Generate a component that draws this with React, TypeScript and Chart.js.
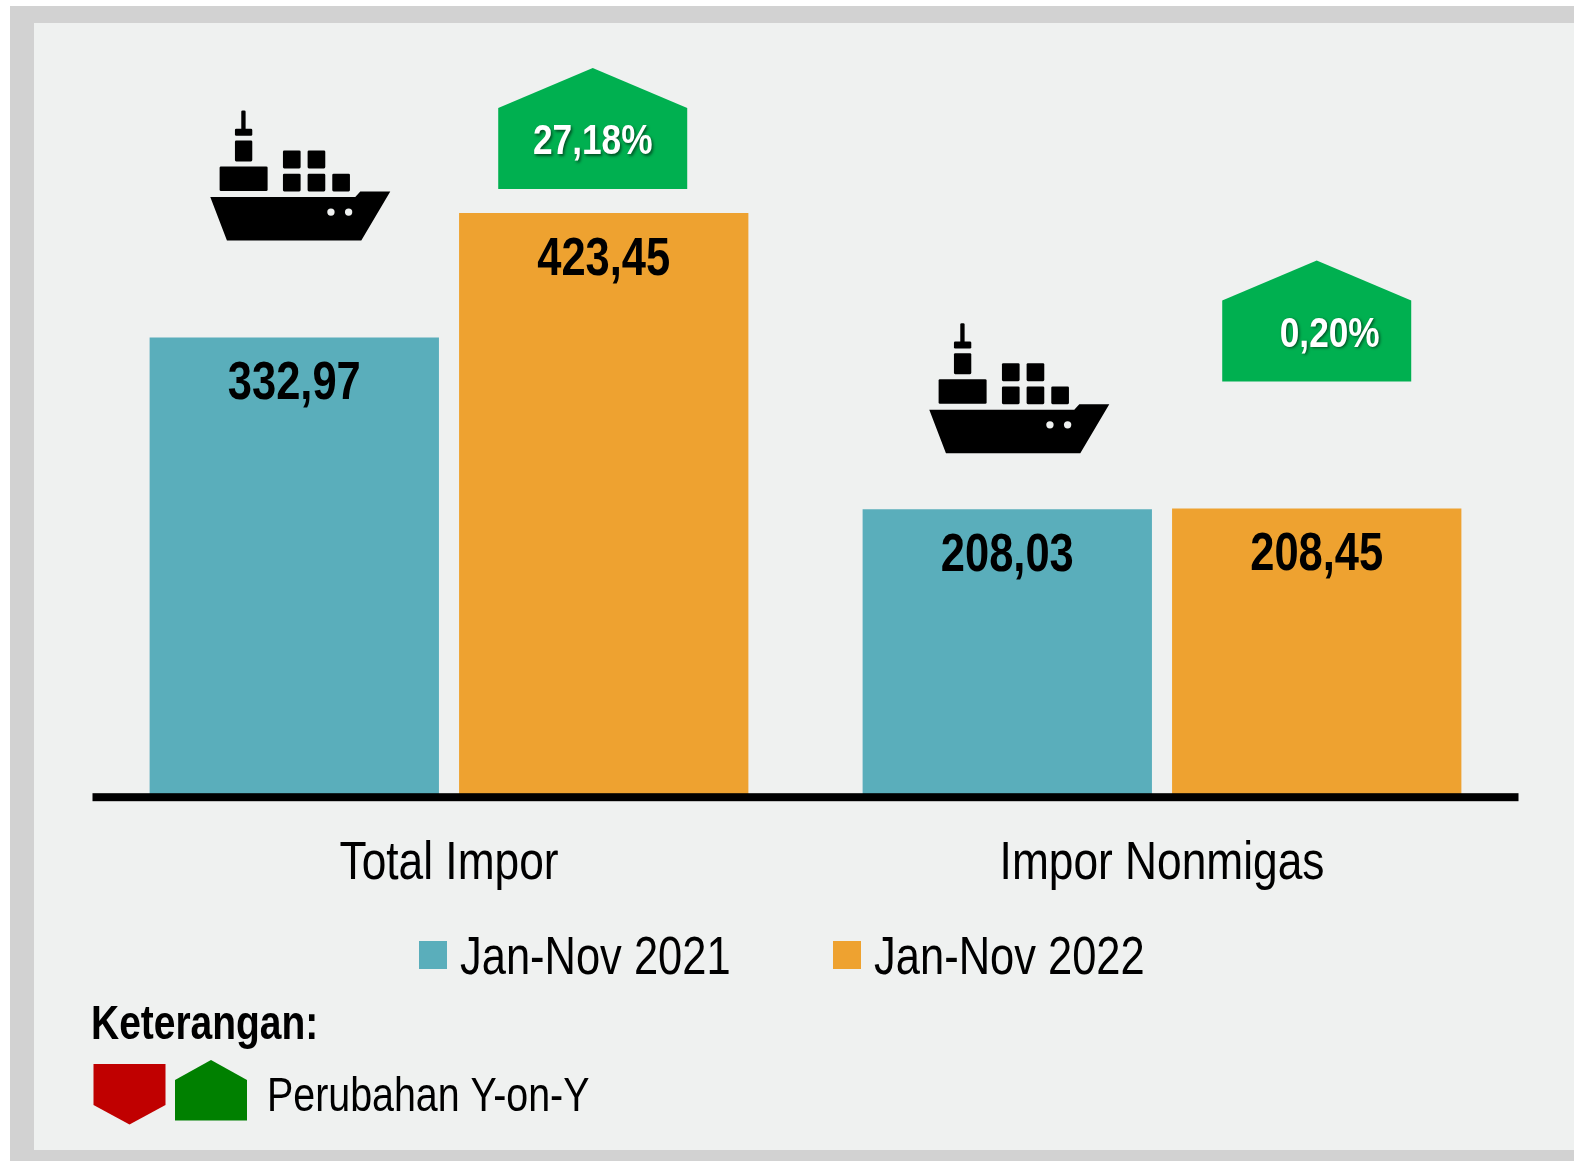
import React, { useEffect, useRef } from "react";
import { Chart, registerables } from "chart.js";

Chart.register(...registerables);

const categories = ["Total Impor", "Impor Nonmigas"];
const series2021 = [332.97, 208.03];
const series2022 = [423.45, 208.45];
const label2021 = "Jan-Nov 2021";
const label2022 = "Jan-Nov 2022";
const valueText2021 = ["332,97", "208,03"];
const valueText2022 = ["423,45", "208,45"];
const changeText = ["27,18%", "0,20%"];
const noteTitle = "Keterangan:";
const noteText = "Perubahan Y-on-Y";

const TEAL = "#5AAEBB";
const ORANGE = "#EEA230";
const GREEN = "#00B050";
const FONT = '"Liberation Sans", Arial, sans-serif';
const NARROW_X = 0.82;

// per-category placement of decorations, relative to the bars
const shipOffset = [
  { dx: -104, dy: -277 },
  { dx: -98, dy: -236 },
];
const badgeOffset = [
  { dx: -11, dy: -24, tx: 0 },
  { dx: 0, dy: -127, tx: 13 },
];

// No narrow font is installed, so all canvas text is condensed horizontally.
function condense(ctx: any) {
  const fill = ctx.fillText.bind(ctx);
  const measure = ctx.measureText.bind(ctx);
  ctx.fillText = (t: string, x: number, y: number) => {
    ctx.save();
    ctx.translate(x, y);
    ctx.scale(NARROW_X, 1);
    fill(t, 0, 0);
    ctx.restore();
  };
  ctx.measureText = (t: string) => ({ width: measure(t).width * NARROW_X });
}

function rr(ctx: CanvasRenderingContext2D, x0: number, y0: number, x1: number, y1: number) {
  ctx.beginPath();
  ctx.roundRect(x0, y0, x1 - x0, y1 - y0, 4);
  ctx.fill();
}

function drawShip(ctx: CanvasRenderingContext2D, ox: number, oy: number, bg: string) {
  ctx.save();
  ctx.translate(ox, oy);
  ctx.scale(1 / 3, 1 / 3);
  ctx.fillStyle = "#000";
  ctx.beginPath();
  [[60, 410], [495, 410], [510, 393], [600, 393], [513, 540], [110, 540]].forEach(([x, y], i) =>
    i ? ctx.lineTo(x, y) : ctx.moveTo(x, y)
  );
  ctx.closePath();
  ctx.fill();
  [
    [153, 150, 166, 210],
    [134, 205, 186, 226],
    [134, 240, 186, 303],
    [88, 318, 232, 392],
    [278, 270, 331, 324],
    [352, 270, 405, 324],
    [278, 340, 331, 393],
    [352, 340, 405, 393],
    [426, 340, 479, 393],
  ].forEach(([a, b, c, d]) => rr(ctx, a, b, c, d));
  ctx.fillStyle = bg;
  [422, 475].forEach((x) => {
    ctx.beginPath();
    ctx.arc(x, 455, 11, 0, Math.PI * 2);
    ctx.fill();
  });
  ctx.restore();
}

function poly(ctx: CanvasRenderingContext2D, pts: number[][], color: string) {
  ctx.fillStyle = color;
  ctx.beginPath();
  pts.forEach(([x, y], i) => (i ? ctx.lineTo(x, y) : ctx.moveTo(x, y)));
  ctx.closePath();
  ctx.fill();
}

const BG = "#EFF1F0";

const decor = {
  id: "decor",
  afterLayout(chart: any) {
    const lg = chart.legend;
    const pad = lg.options.labels.padding;
    const line = lg.lineWidths[0];
    const wanted = 431.5;
    const w = lg.right - lg.left;
    const current = (lg.left + pad + lg.right - line) / 2;
    lg.left += wanted - current;
    lg.right += wanted - current;
    lg.top = 932.5 - pad;
    lg.height = 300;
    lg.bottom = lg.top + 300;
    lg.width = w;
  },
  beforeDraw(chart: any) {
    const ctx = chart.ctx as CanvasRenderingContext2D;
    ctx.save();
    ctx.fillStyle = "#FFFFFF";
    ctx.fillRect(0, 0, 1574, 1161);
    ctx.fillStyle = "#D2D2D2";
    ctx.fillRect(10, 6, 1564, 1155);
    ctx.fillStyle = BG;
    ctx.fillRect(34, 23, 1540, 1127);
    ctx.restore();
  },
  afterDatasetsDraw(chart: any) {
    // axis line sits above the bars
    const ctx = chart.ctx as CanvasRenderingContext2D;
    const { left, right, bottom } = chart.chartArea;
    ctx.save();
    ctx.fillStyle = "#000";
    ctx.fillRect(left, bottom - 2, right - left, 8);
    ctx.restore();
  },
  afterDraw(chart: any) {
    const ctx = chart.ctx as CanvasRenderingContext2D;
    const m0 = chart.getDatasetMeta(0).data;
    const m1 = chart.getDatasetMeta(1).data;
    ctx.save();
    ctx.textAlign = "center";
    ctx.textBaseline = "middle";
    categories.forEach((_, i) => {
      const a = m0[i];
      const b = m1[i];
      ctx.fillStyle = "#000";
      ctx.font = `bold 53px ${FONT}`;
      ctx.fillText(valueText2021[i], a.x, a.y + 47);
      ctx.fillText(valueText2022[i], b.x, b.y + 47);

      drawShip(ctx, a.x + shipOffset[i].dx, a.y + shipOffset[i].dy, BG);

      const cx = b.x + badgeOffset[i].dx;
      const bot = b.y + badgeOffset[i].dy;
      poly(ctx, [[cx - 94.5, bot], [cx - 94.5, bot - 81], [cx, bot - 121], [cx + 94.5, bot - 81], [cx + 94.5, bot]], GREEN);
      ctx.save();
      ctx.shadowColor = "rgba(0,0,0,0.55)";
      ctx.shadowBlur = 3;
      ctx.shadowOffsetX = 1.5;
      ctx.shadowOffsetY = 1.5;
      ctx.fillStyle = "#FFFFFF";
      ctx.font = `bold 43px ${FONT}`;
      ctx.fillText(changeText[i], cx + badgeOffset[i].tx, bot - 46.5);
      ctx.restore();
    });

    ctx.textAlign = "left";
    ctx.textBaseline = "alphabetic";
    ctx.fillStyle = "#000";
    ctx.font = `bold 47.5px ${FONT}`;
    ctx.fillText(noteTitle, 91, 1039);
    poly(ctx, [[93.5, 1064], [165.5, 1064], [165.5, 1105], [129.5, 1124.5], [93.5, 1105]], "#C00000");
    poly(ctx, [[175, 1120.5], [175, 1080], [211, 1060], [247, 1080], [247, 1120.5]], "#008000");
    ctx.fillStyle = "#000";
    ctx.font = `48px ${FONT}`;
    ctx.fillText(noteText, 267, 1111);
    ctx.restore();
  },
};

function swatch(color: string) {
  // the extra transparent strip lifts the square to the optical middle of the text
  const c = document.createElement("canvas");
  c.width = 28;
  c.height = 36;
  const g = c.getContext("2d")!;
  g.fillStyle = color;
  g.fillRect(0, 0, 28, 28);
  return c;
}

export default function App() {
  const ref = useRef<HTMLCanvasElement>(null);
  useEffect(() => {
    document.body.style.margin = "0";
    condense(ref.current!.getContext("2d"));
    const chart = new Chart(ref.current!, {
      type: "bar",
      data: {
        labels: categories,
        datasets: [
          { label: label2021, data: series2021, backgroundColor: TEAL, categoryPercentage: 0.868, barPercentage: 0.935 },
          { label: label2022, data: series2022, backgroundColor: ORANGE, categoryPercentage: 0.868, barPercentage: 0.935 },
        ],
      },
      plugins: [decor],
      options: {
        responsive: false,
        animation: false,
        layout: { padding: { left: 92.5, right: 55.5, top: 39, bottom: 167 } },
        scales: {
          x: {
            grid: { display: false, drawTicks: false },
            border: { display: false },
            ticks: { color: "#000", padding: 37, font: { size: 54, family: FONT } },
          },
          y: { display: false, min: 0, max: 550 },
        },
        plugins: {
          tooltip: { enabled: false },
          legend: {
            position: "bottom",
            maxHeight: 60,
            labels: {
              color: "#000",
              font: { size: 53, family: FONT },
              usePointStyle: true,
              boxWidth: 2,
              boxHeight: 10,
              padding: 115,
              generateLabels: (c: any) =>
                c.data.datasets.map((d: any, i: number) => ({
                  text: d.label,
                  fillStyle: d.backgroundColor,
                  strokeStyle: d.backgroundColor,
                  pointStyle: swatch(d.backgroundColor),
                  datasetIndex: i,
                })),
            },
          },
        },
      },
    } as any);
    return () => chart.destroy();
  }, []);
  return <canvas ref={ref} width={1574} height={1161} style={{ display: "block" }} />;
}
